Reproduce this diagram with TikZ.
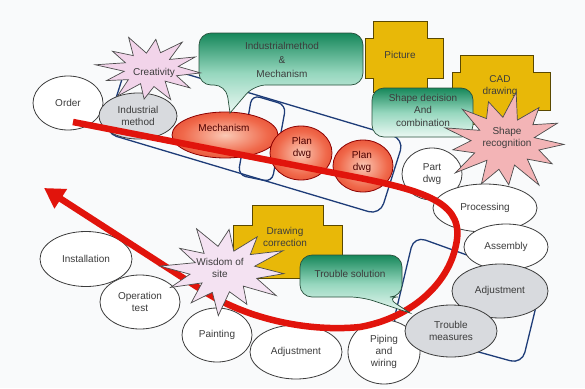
\documentclass[tikz,border=0pt]{standalone}
\usepackage{fontspec}
\setmainfont{Liberation Sans}
\usetikzlibrary{shapes.geometric,arrows.meta}

\definecolor{bg}{RGB}{249,250,251}
\definecolor{navy}{RGB}{30,60,120}
\definecolor{outl}{RGB}{60,60,60}
\definecolor{txt}{RGB}{60,60,60}
\definecolor{grayfill}{RGB}{216,218,222}
\definecolor{redin}{RGB}{250,200,180}
\definecolor{redmid}{RGB}{240,105,75}
\definecolor{redout}{RGB}{215,35,15}
\definecolor{arrowred}{RGB}{225,20,12}
\definecolor{gold}{RGB}{232,184,8}
\definecolor{goldline}{RGB}{90,72,0}
\definecolor{gdark}{RGB}{22,135,90}
\definecolor{gmid}{RGB}{150,215,190}
\definecolor{glight}{RGB}{235,248,243}
\definecolor{gline}{RGB}{40,80,60}
\definecolor{creafill}{RGB}{242,212,234}
\definecolor{shapefill}{RGB}{243,180,182}
\definecolor{wisfill}{RGB}{244,226,242}

\pgfdeclareradialshading{redball}{\pgfpoint{0bp}{0bp}}{color(0bp)=(redin); color(20bp)=(redmid); color(42bp)=(redout); color(50bp)=(redout)}

\tikzset{
  txtfont/.style={font=\fontsize{10}{12}\selectfont},
  ell/.style={ellipse, draw=outl, line width=0.8pt, fill=white, inner sep=0pt, text=txt, align=center, txtfont},
  grayell/.style={ell, fill=grayfill},
  redell/.style={ellipse, draw=red!55!black, line width=0.8pt, shade, shading=redball, inner sep=0pt},
  bluebox/.style={draw=navy, line width=1.3pt, rounded corners=12pt},
  crossshape/.style={draw=goldline, fill=gold, line width=0.7pt},
  callout/.style={draw=gline, line width=0.7pt, top color=gdark, bottom color=glight, middle color=gmid},
  burst/.style={draw=black!70, line width=0.7pt},
  lbl/.style={text=txt, align=center, inner sep=0pt, txtfont},
  redlbl/.style={lbl, text=red!30!black},
  redarrow/.style={draw=arrowred, line width=6.5pt, -{Triangle[length=20pt,width=22pt]}},
}

\begin{document}
\begin{tikzpicture}[x=1pt,y=-1pt]
\useasboundingbox (0,0) rectangle (585,388);
\fill[bg] (0,0) rectangle (585,388);

% blue group frames
\draw[bluebox] (129,57) -- (404,139) -- (380,215) -- (105,133) -- cycle;
\draw[bluebox, rounded corners=8pt] (252,95) -- (286,105) -- (272,182) -- (238,175) -- cycle;
\draw[bluebox] (414,236) -- (542,282) -- (522,364) -- (392,328) -- cycle;

% upper ellipses
\node[ell, minimum width=70pt, minimum height=54pt] (order) at (68,103) {Order};
\node[grayell, minimum width=78pt, minimum height=46pt] (indm) at (138,116) {Industrial\\method};

\node[redell, minimum width=106pt, minimum height=46pt] (mech) at (225,135) {};
\node[redlbl] (mecht) at (224,128) {Mechanism};
\node[redell, minimum width=62pt, minimum height=54pt] (plan1) at (301,153) {};
\node[redlbl] (plan1t) at (302,148) {Plan\\dwg};
\node[redell, minimum width=60pt, minimum height=52pt] (plan2) at (363,166) {};
\node[redlbl] (plan2t) at (362,162) {Plan\\dwg};

% right and lower ellipses
\node[ell, minimum width=60pt, minimum height=52pt] (part) at (432,174) {Part\\dwg};
\node[ell, minimum width=104pt, minimum height=48pt] (proc) at (485,208) {Processing};
\node[ell, minimum width=84pt, minimum height=46pt] (assy) at (506,247) {Assembly};
\node[grayell, minimum width=96pt, minimum height=54pt] (adjr) at (500,291) {Adjustment};
\node[ell, minimum width=72pt, minimum height=64pt] (pipe) at (384,352) {Piping\\and\\wiring};
\node[grayell, minimum width=92pt, minimum height=52pt] (trm) at (451,331) {Trouble\\measures};
\node[ell, minimum width=92pt, minimum height=54pt] (adjb) at (296,352) {Adjustment};
\node[ell, minimum width=70pt, minimum height=54pt] (paint) at (217,335) {Painting};
\node[ell, minimum width=92pt, minimum height=55pt] (inst) at (86,259) {Installation};
\node[ell, minimum width=80pt, minimum height=54pt] (optest) at (140,302) {Operation\\test};

% yellow crosses
\path[crossshape] (373,21) -- (427,21) -- (427,38) -- (443,38) -- (443,78) -- (427,78) -- (427,92) -- (373,92) -- (373,78) -- (365,78) -- (365,38) -- (373,38) -- cycle;
\node[lbl] (pict) at (400,55) {Picture};
\path[crossshape] (460,55) -- (533,55) -- (533,72) -- (550,72) -- (550,110) -- (533,110) -- (533,124) -- (460,124) -- (460,110) -- (452,110) -- (452,72) -- (460,72) -- cycle;
\node[lbl] (cad) at (500,86) {CAD\\drawing};
\path[crossshape] (252,205) -- (323,205) -- (323,225) -- (342,225) -- (342,262) -- (323,262) -- (323,278) -- (252,278) -- (252,262) -- (233,262) -- (233,225) -- (252,225) -- cycle;
\node[lbl] (drawc) at (285,237) {Drawing\\correction};

% red process arrow
\coordinate (rs) at (73,122);
\coordinate (re) at (44,188);
\draw[redarrow] (rs) -- (360,178) .. controls (430,192) and (465,205) .. (456,245)
  .. controls (448,285) and (410,318) .. (360,327)
  .. controls (310,332) and (250,320) .. (205,292) -- (re);

% callouts
\path[callout] (280,33) [rounded corners=12pt] -- (363,33) -- (363,85) -- (254,85) [sharp corners] -- (230,113) [rounded corners=12pt] -- (226,85) -- (199,85) -- (199,33) -- cycle;
\node[lbl, font=\fontsize{10}{14}\selectfont] (imm) at (282,60) {Industrialmethod\\\&\\Mechanism};
\path[callout, rounded corners=12pt] (372,88) rectangle (473,137);
\node[lbl, font=\fontsize{10}{12.5}\selectfont] (sdc) at (423,110) {Shape decision\\And\\combination};
\path[callout] (350,255) [rounded corners=12pt] -- (402,255) -- (402,297) -- (386,297) [sharp corners] -- (410,313) [rounded corners=12pt] -- (362,297) -- (300,297) -- (300,255) -- cycle;
\node[lbl] (tsol) at (350,274) {Trouble solution};

% bursts
\path[burst, fill=creafill] plot[samples at={0,...,23}, variable=\k]
  ({150+51*(1-0.48*mod(\k,2))*(1+0.08*sin(\k*97))*cos(\k*15+7)},
   {69+32*(1-0.48*mod(\k,2))*(1+0.08*sin(\k*97))*sin(\k*15+7)}) -- cycle;
\node[lbl] (crea) at (154,73) {Creativity};

\path[burst, fill=shapefill] plot[samples at={0,...,25}, variable=\k]
  ({505+59*(1-0.45*mod(\k,2))*(1+0.1*sin(\k*113))*cos(\k*360/26+3)},
   {142+46*(1-0.45*mod(\k,2))*(1+0.1*sin(\k*113))*sin(\k*360/26+3)}) -- cycle;
\node[lbl] (shrec) at (507,138) {Shape\\recognition};

\path[burst, fill=wisfill] plot[samples at={0,...,23}, variable=\k]
  ({224+60*(1-0.47*mod(\k,2))*(1+0.1*sin(\k*71))*cos(\k*15+5)},
   {270+42*(1-0.47*mod(\k,2))*(1+0.1*sin(\k*71))*sin(\k*15+5)}) -- cycle;
\node[lbl] (wis) at (220,268) {Wisdom of\\site};
\end{tikzpicture}
\end{document}
